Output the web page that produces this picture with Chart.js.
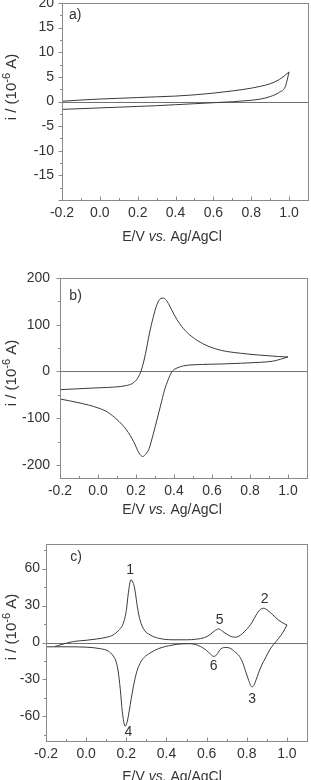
<!DOCTYPE html>
<html>
<head>
<meta charset="utf-8">
<script src="https://cdn.jsdelivr.net/npm/chart.js@4.4.1/dist/chart.umd.min.js"></script>
<style>
  body { margin: 0; background: #fff; width: 311px; height: 780px; overflow: hidden; position: relative; }
  canvas { position: absolute; left: 0; }
</style>
</head>
<body>
<canvas id="chartA" width="311" height="250" style="top:0px"></canvas>
<canvas id="chartB" width="311" height="262" style="top:260px"></canvas>
<canvas id="chartC" width="311" height="260" style="top:520px"></canvas>
<script>
// ---- data (E in V, i in 10^-6 A) ----

// a) forward and reverse scans
const aFwdE = [-0.2, -0.1, 0.0, 0.1, 0.2, 0.3, 0.4, 0.5, 0.6, 0.7, 0.8, 0.85, 0.9, 0.95, 1.0];
const aFwdI = [0.05, 0.3, 0.5, 0.65, 0.8, 0.95, 1.1, 1.35, 1.7, 2.15, 2.7, 3.1, 3.6, 4.5, 6.0];
const aRevE = [-0.2, -0.1, 0.0, 0.1, 0.2, 0.3, 0.4, 0.5, 0.6, 0.7, 0.75, 0.8, 0.85, 0.9, 0.95, 0.98, 1.0];
const aRevI = [-1.6, -1.45, -1.3, -1.15, -1.0, -0.85, -0.65, -0.45, -0.25, -0.05, 0.1, 0.25, 0.5, 1.0, 1.9, 3.0, 6.0];

// b)
const bFwdE = [-0.2, -0.1, 0.0, 0.1, 0.15, 0.18, 0.2, 0.215, 0.23, 0.25, 0.27, 0.29, 0.31, 0.33, 0.345, 0.36, 0.38, 0.40, 0.43, 0.47, 0.52, 0.58, 0.65, 0.75, 0.85, 0.95, 1.0];
const bFwdI = [-39, -37, -35, -33, -30, -26, -19, -10, 5, 38, 80, 115, 143, 156, 157, 152, 138, 122, 102, 83, 67, 54, 45, 39, 35, 32, 31];
const bRevE = [-0.2, -0.1, 0.0, 0.05, 0.1, 0.15, 0.19, 0.215, 0.235, 0.255, 0.27, 0.29, 0.31, 0.33, 0.35, 0.37, 0.385, 0.4, 0.42, 0.45, 0.55, 0.65, 0.75, 0.85, 0.92, 0.96, 1.0];
const bRevI = [-59, -67, -78, -87, -103, -125, -152, -174, -182, -175, -164, -135, -104, -72, -40, -17, -3, 4, 8, 12, 15, 16, 17.5, 19.5, 22, 26, 31];

// c)
const cFwdE = [-0.155, -0.12, -0.063, 0.0, 0.05, 0.1, 0.135, 0.16, 0.185, 0.2, 0.21, 0.223, 0.235, 0.243, 0.255, 0.268, 0.29, 0.318, 0.36, 0.433, 0.5, 0.549, 0.59, 0.615, 0.64, 0.66, 0.68, 0.698, 0.72, 0.739, 0.76, 0.797, 0.825, 0.847, 0.865, 0.885, 0.905, 0.93, 0.96, 0.99, 1.0];
const cFwdI = [-3.2, -1.5, 0.8, 1.8, 2.8, 4.2, 6.2, 9.5, 15.7, 26, 40, 51, 48, 42.6, 29, 18.4, 10, 6.2, 3.5, 2.2, 2.2, 2.7, 4, 6.2, 9.5, 11, 9, 7, 5, 4.3, 5, 10.3, 16, 22.4, 26.5, 27.8, 26, 22.4, 18, 15, 14.3];
const cRevE = [-0.2, -0.1, 0.0, 0.07, 0.11, 0.135, 0.15, 0.16, 0.17, 0.18, 0.194, 0.205, 0.215, 0.235, 0.25, 0.268, 0.29, 0.318, 0.36, 0.433, 0.47, 0.516, 0.56, 0.6, 0.62, 0.635, 0.65, 0.666, 0.69, 0.715, 0.74, 0.764, 0.78, 0.797, 0.81, 0.825, 0.835, 0.847, 0.87, 0.897, 0.92, 0.946, 0.971, 0.99, 1.0];
const cRevI = [-3.5, -3.5, -3.8, -5, -7, -11, -16, -24, -38, -56, -68, -64, -55, -36, -25, -17, -12, -8.6, -5, -2, -1.2, -1, -2.5, -6.5, -9.5, -11.3, -10, -6, -4, -4.5, -7.5, -11.3, -16.5, -24.7, -31, -36, -35, -30, -20, -11.3, -4.5, 0.8, 6, 11, 14.3];

// tick labels
const xTicks = [-0.2, 0.0, 0.2, 0.4, 0.6, 0.8, 1.0];
const xMinor = [-0.1, 0.1, 0.3, 0.5, 0.7, 0.9];
const aYTicks = [20, 15, 10, 5, 0, -5, -10, -15, -20];
const aYMinor = [17.5, 12.5, 7.5, 2.5, -2.5, -7.5, -12.5, -17.5];
const bYTicks = [200, 100, 0, -100, -200];
const bYMinor = [150, 50, -50, -150];
const cYTicks = [60, 30, 0, -30, -60];
const cYMinor = [75, 45, 15, -15, -45, -75];

// peak numbers and panel letters, in data units
const aNotes = [{ x: -0.13, y: 17.6, text: "a)" }];
const bNotes = [{ x: -0.118, y: 162, text: "b)" }];
const cNotes = [
  { x: -0.05, y: 69, text: "c)" },
  { x: 0.219, y: 59, text: "1" },
  { x: 0.889, y: 35, text: "2" },
  { x: 0.827, y: -46, text: "3" },
  { x: 0.21, y: -73, text: "4" },
  { x: 0.665, y: 18, text: "5" },
  { x: 0.635, y: -19.5, text: "6" }
];

const FONT = "'Liberation Sans', Arial, sans-serif";
const TEXT = "#333";
const LINE = "#3a3a3a";
const FRAME = "#8a8a8a";

function pts(xs, ys) {
  return xs.map((x, i) => ({ x: x, y: ys[i] }));
}

// frame, ticks, zero line, titles and notes
const decor = {
  id: "decor",
  beforeDatasetsDraw(chart, args, o) {
    const ctx = chart.ctx;
    const a = chart.chartArea;
    const y0 = Math.round(chart.scales.y.getPixelForValue(0)) + 0.5;
    ctx.save();
    ctx.strokeStyle = "#707070";
    ctx.lineWidth = 1;
    ctx.beginPath();
    ctx.moveTo(a.left, y0);
    ctx.lineTo(a.right, y0);
    ctx.stroke();
    ctx.restore();
  },
  afterDatasetsDraw(chart, args, o) {
    const ctx = chart.ctx;
    const a = chart.chartArea;
    const xs = chart.scales.x, ys = chart.scales.y;
    ctx.save();
    ctx.strokeStyle = FRAME;
    ctx.lineWidth = 1;
    ctx.strokeRect(Math.round(a.left) + 0.5, Math.round(a.top) + 0.5,
      Math.round(a.right - a.left), Math.round(a.bottom - a.top));

    // left ticks point out, bottom ticks point in
    ctx.beginPath();
    const lx = Math.round(a.left) + 0.5;
    o.yTicks.forEach(v => {
      const p = Math.round(ys.getPixelForValue(v)) + 0.5;
      ctx.moveTo(lx - 4, p); ctx.lineTo(lx, p);
    });
    o.yMinor.forEach(v => {
      const p = Math.round(ys.getPixelForValue(v)) + 0.5;
      ctx.moveTo(lx - 2.5, p); ctx.lineTo(lx, p);
    });
    const by = Math.round(a.bottom) + 0.5;
    xTicks.forEach(v => {
      const p = Math.round(xs.getPixelForValue(v)) + 0.5;
      ctx.moveTo(p, by); ctx.lineTo(p, by - 4);
    });
    xMinor.forEach(v => {
      const p = Math.round(xs.getPixelForValue(v)) + 0.5;
      ctx.moveTo(p, by); ctx.lineTo(p, by - 2.5);
    });
    ctx.stroke();

    // notes
    ctx.fillStyle = TEXT;
    ctx.font = "14px " + FONT;
    ctx.textAlign = "center";
    ctx.textBaseline = "middle";
    o.notes.forEach(n => {
      ctx.fillText(n.text, xs.getPixelForValue(n.x), ys.getPixelForValue(n.y));
    });

    // x title with italic "vs."
    const parts = [["E/V ", "14px "], ["vs.", "italic 14px "], [" Ag/AgCl", "14px "]];
    let w = 0;
    parts.forEach(p => { ctx.font = p[1] + FONT; w += ctx.measureText(p[0]).width; });
    let x = o.xTitle[0] - w / 2;
    ctx.textAlign = "left";
    parts.forEach(p => {
      ctx.font = p[1] + FONT;
      ctx.fillText(p[0], x, o.xTitle[1]);
      x += ctx.measureText(p[0]).width;
    });

    // y title with superscript
    ctx.translate(o.yTitle[0], o.yTitle[1]);
    ctx.rotate(-Math.PI / 2);
    const yp = [["i / (10", 15, 0], ["-6", 11, -5], [" A)", 15, 0]];
    w = 0;
    yp.forEach(p => { ctx.font = p[1] + "px " + FONT; w += ctx.measureText(p[0]).width; });
    x = -w / 2;
    yp.forEach(p => {
      ctx.font = p[1] + "px " + FONT;
      ctx.fillText(p[0], x, p[2]);
      x += ctx.measureText(p[0]).width;
    });
    ctx.restore();
  }
};

function makePanel(id, fwd, rev, box, yMin, yMax, yTicks, yMinor, notes, xTitle, yTitle, yPad) {
  const canvas = document.getElementById(id);
  const H = canvas.height;
  return new Chart(canvas, {
    type: "scatter",
    data: {
      datasets: [fwd, rev].map(d => ({
        data: d,
        showLine: true,
        borderColor: LINE,
        borderWidth: 1,
        pointRadius: 0,
        cubicInterpolationMode: "monotone"
      }))
    },
    options: {
      responsive: false,
      animation: false,
      devicePixelRatio: 1,
      layout: { padding: { left: 0, top: box.top, right: 311 - box.right, bottom: 0 } },
      plugins: {
        legend: { display: false },
        tooltip: { enabled: false },
        decor: { yTicks: yTicks, yMinor: yMinor, notes: notes, xTitle: xTitle, yTitle: yTitle }
      },
      scales: {
        x: {
          type: "linear", min: -0.2, max: 1.1,
          grid: { display: false, drawTicks: false },
          border: { display: false },
          afterBuildTicks: s => { s.ticks = xTicks.map(v => ({ value: v })); },
          afterFit: s => { s.height = H - box.bottom; s.paddingLeft = 0; s.paddingRight = 0; },
          ticks: {
            autoSkip: false, maxRotation: 0, padding: 5, color: TEXT,
            font: { family: FONT, size: 14 },
            callback: v => v.toFixed(1)
          }
        },
        y: {
          type: "linear", min: yMin, max: yMax,
          grid: { display: false, drawTicks: false },
          border: { display: false },
          afterBuildTicks: s => { s.ticks = yTicks.map(v => ({ value: v })); },
          afterFit: s => { s.width = box.left; s.paddingTop = 0; s.paddingBottom = 0; },
          ticks: {
            autoSkip: false, padding: yPad, color: TEXT,
            font: { family: FONT, size: 14 },
            callback: v => (v === yMin ? "" : String(v))
          }
        }
      }
    },
    plugins: [decor]
  });
}

document.addEventListener("DOMContentLoaded", function () {
  makePanel("chartA", pts(aFwdE, aFwdI), pts(aRevE, aRevI),
    { left: 62, right: 308, top: 3, bottom: 200 }, -20, 20, aYTicks, aYMinor, aNotes, [172, 237], [12, 87], 8);

  makePanel("chartB", pts(bFwdE, bFwdI), pts(bRevE, bRevI),
    { left: 60, right: 307, top: 18, bottom: 218 }, -228, 200, bYTicks, bYMinor, bNotes, [172, 250], [12, 113], 10);

  makePanel("chartC", pts(cFwdE, cFwdI), pts(cRevE, cRevI),
    { left: 46, right: 307, top: 24, bottom: 221 }, -80, 80, cYTicks, cYMinor, cNotes, [172, 257], [12, 107], 6);
});
</script>
</body>
</html>
